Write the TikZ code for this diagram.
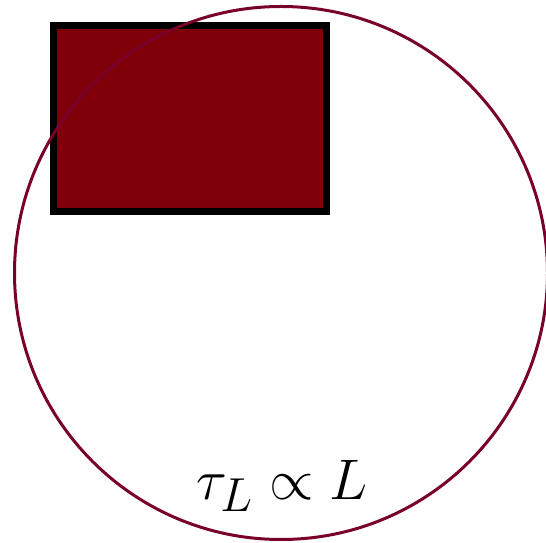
\documentclass[tikz,border=0pt]{standalone}
\definecolor{boxred}{RGB}{128,0,10}
\definecolor{ringred}{RGB}{122,0,44}
\begin{document}
\begin{tikzpicture}[x=1pt,y=1pt,
  box/.style={draw=black,line width=7pt,fill=boxred},
  ring/.style={draw=ringred,line width=3pt},
  lbl/.style={font=\Huge,scale=2.3,inner sep=0pt}]
\useasboundingbox (0,0) rectangle (546,543);
\path[box] (53.5,517.5) rectangle (326,331);
\draw[ring] (281,270) circle (266.5);
\node[lbl] (eq) at (282,57) {$\tau_L \propto L$};
\end{tikzpicture}
\end{document}
